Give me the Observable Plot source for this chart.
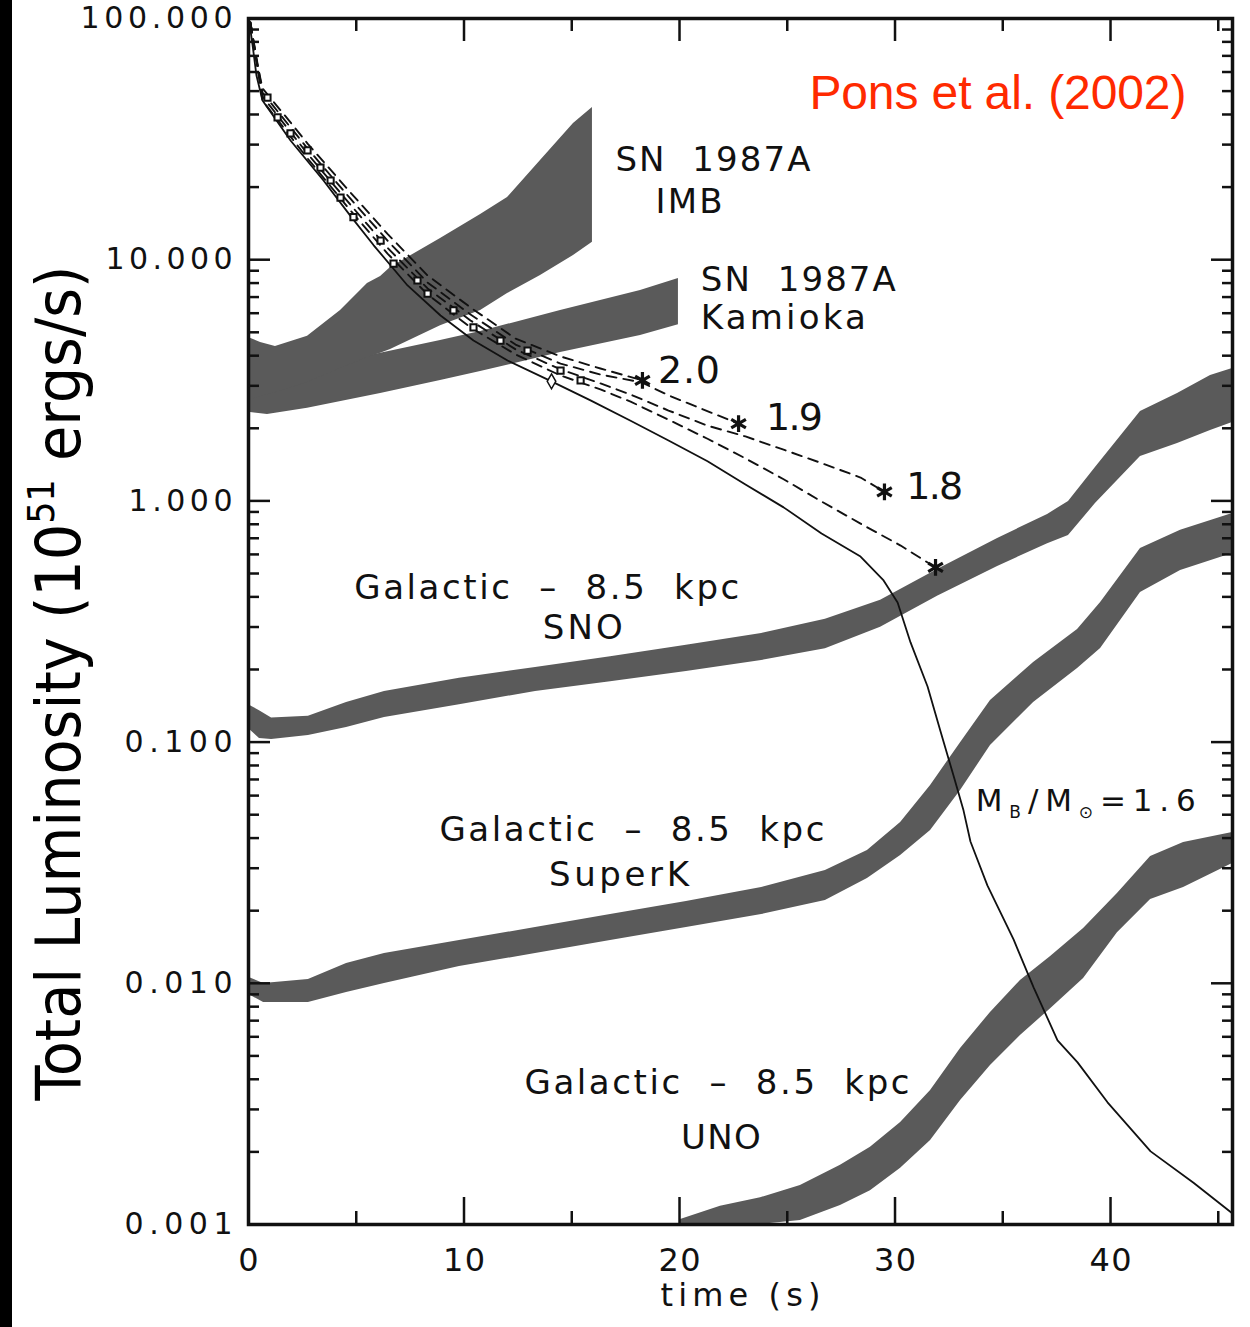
<!DOCTYPE html>
<html><head><meta charset="utf-8">
<script src="https://cdn.jsdelivr.net/npm/d3@7"></script>
<script src="https://cdn.jsdelivr.net/npm/@observablehq/plot@0.6"></script>
<style>
body{margin:0;background:#fff;}
#wrap{width:1250px;height:1327px;overflow:hidden;}
#wrap svg{display:block;}
svg text{white-space:pre;}
</style></head><body><div id="wrap"></div>
<script>
// ---- Data (time in s, luminosity in 1e51 erg/s) ----
// SN 1987A IMB band
const imbT  = [0,0.56,1.25,2.74,4.27,5.52,6.13,6.59,8.91,10.77,12.02,13.55,15.08,15.96];
const imbHi = [4.76,4.54,4.37,4.81,6.16,7.97,8.52,9.29,12.24,15.39,18.11,25.78,36.7,42.8];
const imbLo = [2.61,2.71,2.81,3.10,3.54,3.93,4.09,4.24,5.32,6.16,7.24,8.61,10.4,11.8];
// SN 1987A Kamioka band
const kamT  = [0,0.88,2.74,6.13,8.91,10.77,14.48,18.19,19.95];
const kamHi = [3.16,3.28,3.54,4.09,4.62,5.04,6.16,7.46,8.36];
const kamLo = [2.33,2.28,2.42,2.79,3.16,3.44,4.12,4.85,5.38];
// Galactic SNO band
const snoT  = [0,0.51,1.07,2.78,4.55,6.31,9.79,13.32,16.80,20.32,23.81,26.77,29.33,31.97,34.76,37.08,38.05,39.30,41.39,43.11,44.64,45.66];
const snoHi = [0.143,0.135,0.126,0.128,0.146,0.162,0.184,0.204,0.226,0.252,0.282,0.323,0.387,0.520,0.699,0.879,0.995,1.375,2.35,2.79,3.31,3.54];
const snoLo = [0.114,0.1035,0.1025,0.1065,0.115,0.1265,0.143,0.162,0.178,0.196,0.218,0.244,0.299,0.402,0.535,0.665,0.718,0.975,1.528,1.730,1.958,2.113];
// Galactic SuperK band
const skT  = [0,0.70,2.78,4.55,6.31,9.79,13.32,16.80,20.32,23.81,26.77,28.72,30.26,31.65,33.04,34.43,36.43,38.47,39.54,41.39,43.25,45.66];
const skHi = [0.0106,0.00998,0.01037,0.01208,0.01329,0.01504,0.01703,0.01928,0.02183,0.02496,0.02935,0.03556,0.04645,0.0661,0.0995,0.1487,0.2138,0.2931,0.3793,0.635,0.755,0.887];
const skLo = [0.0090,0.00832,0.00832,0.00916,0.00998,0.01174,0.01329,0.01504,0.01703,0.01928,0.02205,0.0272,0.0339,0.0430,0.0630,0.0968,0.1459,0.2018,0.2443,0.417,0.514,0.605];
// Galactic UNO band
const unoT  = [20.05,21.90,23.76,25.61,27.47,28.86,30.26,31.65,33.04,34.43,35.82,37.22,38.75,40.32,41.86,43.39,45.66];
const unoHi = [0.00105,0.00119,0.00129,0.00145,0.00176,0.00209,0.00265,0.00359,0.00537,0.00757,0.01027,0.01292,0.01686,0.02355,0.03357,0.03837,0.0422];
const unoLo = [0.001,0.001,0.001,0.00104,0.00120,0.00138,0.00171,0.00223,0.00327,0.00456,0.00607,0.00785,0.01047,0.01622,0.02228,0.02496,0.03139];
// Luminosity curves: M_B/M_sun = 1.6 (solid) and collapsing models (dashed)
const m16T = [0.05,0.19,0.37,0.65,1.95,3.48,4.73,5.80,7.38,8.91,10.44,12.02,14.06,15.87,17.73,19.49,21.30,23.06,24.83,26.59,28.40,29.47,30.12,30.72,31.51,32.11,32.71,33.18,33.50,34.29,35.50,36.43,37.54,38.47,39.86,41.86,43.85,45.66];
const m16L = [95.3,77.3,58.0,45.7,31.2,21.3,15.2,11.5,7.82,5.87,4.62,3.82,3.13,2.61,2.15,1.78,1.46,1.17,0.94,0.733,0.588,0.468,0.379,0.259,0.170,0.111,0.0728,0.0520,0.0387,0.0254,0.0152,0.00962,0.00580,0.00470,0.00321,0.00201,0.00149,0.00111];
const m20T = [0.09,0.32,0.65,1.95,2.74,4.73,6.45,8.31,10.30,12.39,14.48,16.33,18.28];
const m20L = [96.2,70.3,51.3,37.1,30.3,19.0,12.8,8.6,6.34,4.71,3.97,3.54,3.16];
const m19T = [0.09,0.65,2.74,4.73,6.45,8.31,10.30,12.39,14.48,16.33,18.24,19.49,20.97,22.74];
const m19L = [96.2,49.3,28.9,17.9,12.0,8.04,5.93,4.45,3.71,3.34,3.10,2.74,2.42,2.09];
const m18T = [0.09,0.65,2.74,4.73,6.45,8.31,10.30,12.39,14.48,16.33,17.73,19.49,21.30,23.06,24.83,26.54,28.40,29.51];
const m18L = [96.2,47.5,27.5,16.9,11.2,7.60,5.60,4.25,3.51,3.07,2.76,2.37,2.05,1.85,1.63,1.44,1.25,1.09];
const m17T = [0.09,0.65,2.74,4.73,6.45,8.31,10.30,12.39,14.48,16.33,17.73,19.49,21.30,23.06,24.83,26.54,28.40,30.26,31.88];
const m17L = [96.2,45.7,26.3,16.0,10.6,7.18,5.24,4.05,3.31,2.90,2.58,2.17,1.81,1.50,1.23,1.00,0.805,0.653,0.530];
// collapse points (stars) and their labels
const starT = [18.28,22.74,29.51,31.88];
const starL = [3.16,2.09,1.09,0.530];
const starLabels = ["2.0","1.9","1.8"];
const starLabelT = [19.0,24.01,30.52];
const starLabelL = [3.47,2.20,1.14];
// small markers along the curve bundle
const mkT = [0.88,1.35,1.95,2.74,3.34,3.81,4.27,4.87,6.13,6.73,7.84,8.31,9.51,10.44,11.69,12.95,14.48,15.41];
const mkL = [47.0,38.9,33.4,28.4,24.1,21.3,18.1,15.0,12.0,9.64,8.20,7.24,6.16,5.24,4.62,4.20,3.47,3.16];
const diamondT = [14.06];
const diamondL = [3.13];
// annotation texts
const centerLabels = ["SN  1987A","IMB","Galactic  \u2013  8.5  kpc","SNO","Galactic  \u2013  8.5  kpc","SuperK","Galactic  \u2013  8.5  kpc","UNO"];
const centerT = [21.55,20.44,13.84,15.51,17.79,17.19,21.74,21.92];
const centerL = [25.8,17.4,0.433,0.296,0.0430,0.0280,0.00385,0.00228];
const leftLabels = ["SN  1987A","Kamioka"];
const leftT = [20.99,20.99];
const leftL = [8.20,5.75];
const yTicks = [0.001,0.01,0.1,1,10,100];
const xTicks = [0,10,20,30,40];
const xMinor = [5,15,25,35,45];

// ---- styles ----
const gray = "#5a5a5a", ink = "#111";
const textWidths = {"SN  1987A":195,"IMB":67,"Kamioka":165,"2.0":62,"1.9":57,"1.8":57,
  "Galactic  \u2013  8.5  kpc":385,"SNO":80,"SuperK":140,"UNO":80,"Pons et al. (2002)":377,
  "100.000":152,"10.000":127,"1.000":104,"0.100":108,"0.010":108,"0.001":108,
  "10":42,"20":42,"30":42,"40":42,"time (s)":160};

const band = (T, lo, hi) => T.map((t, i) => ({t, lo: lo[i], hi: hi[i]}));
const pts = (T, L) => T.map((t, i) => ({t, L: L[i]}));
const lab = (S, T, L) => S.map((s, i) => ({s, t: T[i], L: L[i]}));
const yMinor = [];
for (const d of [0.001,0.01,0.1,1,10]) for (let k = 2; k <= 9; k++) yMinor.push(+(d*k).toPrecision(3));
const xMajor = xTicks.filter(d => d > 0);
const blank = () => "";
const dash = {x:"t", y:"L", stroke:ink, strokeWidth:1.9, strokeDasharray:"10,7"};

const plot = Plot.plot({
  width:1250, height:1327, marginLeft:248, marginRight:18, marginTop:18, marginBottom:103,
  x:{domain:[0,45.66]},
  y:{type:"log", domain:[0.001,100]},
  style:{fontFamily:"'DejaVu Sans', sans-serif", color:ink, background:"#fff"},
  marks:[
    Plot.areaY(band(kamT,kamLo,kamHi), {x:"t", y1:"lo", y2:"hi", fill:gray}),
    Plot.areaY(band(imbT,imbLo,imbHi), {x:"t", y1:"lo", y2:"hi", fill:gray}),
    Plot.areaY(band(snoT,snoLo,snoHi), {x:"t", y1:"lo", y2:"hi", fill:gray}),
    Plot.areaY(band(skT,skLo,skHi), {x:"t", y1:"lo", y2:"hi", fill:gray}),
    Plot.areaY(band(unoT,unoLo,unoHi), {x:"t", y1:"lo", y2:"hi", fill:gray}),
    Plot.line(pts(m16T,m16L), {x:"t", y:"L", stroke:ink, strokeWidth:1.8}),
    Plot.line(pts(m20T,m20L), dash),
    Plot.line(pts(m19T,m19L), dash),
    Plot.line(pts(m18T,m18L), dash),
    Plot.line(pts(m17T,m17L), dash),
    Plot.dot(pts(mkT,mkL), {x:"t", y:"L", symbol:"square", r:3.5, stroke:ink, fill:"#fff", strokeWidth:2}),
    Plot.dot(pts(diamondT,diamondL), {x:"t", y:"L", symbol:"diamond", r:4.5, stroke:ink, fill:"#fff", strokeWidth:1.5}),
    Plot.dot(pts(starT,starL), {x:"t", y:"L", symbol:"asterisk", r:8, stroke:ink, strokeWidth:3.2}),
    Plot.text(lab(centerLabels,centerT,centerL), {x:"t", y:"L", text:"s", fontSize:34, fill:ink}),
    Plot.text(lab(leftLabels,leftT,leftL), {x:"t", y:"L", text:"s", fontSize:34, textAnchor:"start", fill:ink}),
    Plot.text(lab(starLabels,starLabelT,starLabelL), {x:"t", y:"L", text:"s", fontSize:38, textAnchor:"start", fill:ink}),
    Plot.text(["Pons et al. (2002)"], {x:43.52, y:48.9, text:d=>d, fontSize:48, textAnchor:"end", fill:"#ff2a00", fontFamily:"'Liberation Sans', Arial, sans-serif"}),
    Plot.text(["time (s)"], {frameAnchor:"bottom", dy:81, text:d=>d, fontSize:32, fill:ink}),
    Plot.frame({stroke:ink, strokeWidth:3.5}),
    // tick labels
    Plot.axisY({anchor:"left", ticks:yTicks, tickSize:0, tickPadding:16, tickFormat:d3.format(".3f"), fontSize:30, label:null, fill:ink}),
    Plot.axisX({anchor:"bottom", ticks:xTicks, tickSize:0, tickPadding:24, tickFormat:d3.format("d"), fontSize:32, label:null, fill:ink}),
    // inward ticks
    Plot.axisY({anchor:"left", ticks:yTicks, tickSize:-22, tickFormat:blank, strokeWidth:2.5, label:null}),
    Plot.axisY({anchor:"left", ticks:yMinor, tickSize:-11, tickFormat:blank, strokeWidth:2.5, label:null}),
    Plot.axisY({anchor:"right", ticks:yTicks, tickSize:-22, tickFormat:blank, strokeWidth:2.5, label:null}),
    Plot.axisY({anchor:"right", ticks:yMinor, tickSize:-11, tickFormat:blank, strokeWidth:2.5, label:null}),
    Plot.axisX({anchor:"bottom", ticks:xMajor, tickSize:-27, tickFormat:blank, strokeWidth:2.5, label:null}),
    Plot.axisX({anchor:"bottom", ticks:xMinor, tickSize:-13, tickFormat:blank, strokeWidth:2.5, label:null}),
    Plot.axisX({anchor:"top", ticks:xMajor, tickSize:-22, tickFormat:blank, strokeWidth:2.5, label:null}),
    Plot.axisX({anchor:"top", ticks:xMinor, tickSize:-12, tickFormat:blank, strokeWidth:2.5, label:null})
  ]
});
document.getElementById("wrap").appendChild(plot);

const svg = d3.select(plot);
svg.selectAll("text").each(function() {
  const w = textWidths[this.textContent];
  if (w) { this.setAttribute("textLength", w); this.setAttribute("lengthAdjust", "spacing"); }
});
const xs = plot.scale("x"), ys = plot.scale("y");

// black strip at the left edge
svg.insert("rect", ":first-child").attr("x",0).attr("y",0).attr("width",12).attr("height",1327).attr("fill","#000");

// M_B/M_sun label
const ml = svg.append("text")
  .attr("x", xs.apply(33.77)).attr("y", ys.apply(0.0573)).attr("dy","0.36em")
  .attr("text-anchor","start")
  .attr("font-size",31).attr("font-family","'DejaVu Sans', sans-serif").attr("fill",ink)
  .attr("textLength",220).attr("lengthAdjust","spacing");
ml.append("tspan").text("M");
ml.append("tspan").attr("font-size",17).attr("dy",7).text("B");
ml.append("tspan").attr("dy",-7).text("/M");
ml.append("tspan").attr("font-size",17).attr("dy",7).text("\u2299");
ml.append("tspan").attr("dy",-7).text("=1.6");

// y-axis title
const yt = svg.append("text")
  .attr("transform", "translate(80,683) rotate(-90)")
  .attr("text-anchor","middle").attr("font-size",62)
  .attr("font-family","'Liberation Sans Narrow','DejaVu Sans Condensed','Liberation Sans',sans-serif")
  .attr("fill","#000").attr("textLength",835).attr("lengthAdjust","spacingAndGlyphs");
yt.append("tspan").text("Total Luminosity (10");
yt.append("tspan").attr("font-size",38).attr("dy",-26).text("51");
yt.append("tspan").attr("dy",26).text(" ergs/s)");
</script>
</body></html>
